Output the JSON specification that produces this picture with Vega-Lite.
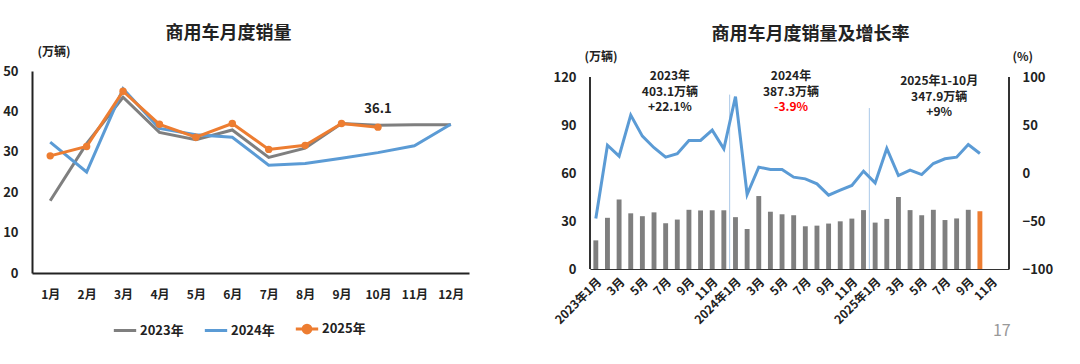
{
  "$schema": "https://vega.github.io/schema/vega-lite/v6.json",
  "background": "white",
  "padding": {"left": 2, "right": 5, "top": 25, "bottom": 5},
  "config": {
    "font": "Noto Sans CJK SC",
    "view": {"stroke": null},
    "axis": {"grid": false, "ticks": false, "labelFontWeight": "bold", "labelColor": "#222", "domainColor": "#333", "titleFontWeight": "bold", "titleColor": "#222"},
    "title": {"fontSize": 18, "fontWeight": "bold", "color": "#222"}
  },
  "title": {"text": "17", "orient": "bottom", "anchor": "end", "color": "#999", "fontSize": 16, "fontWeight": "normal", "dx": -42, "offset": -16},
  "datasets": {
    "sales": [
      {"m": "2023-01", "year": "2023年", "month": 1, "v": 17.9, "yoy": -47.5},
      {"m": "2023-02", "year": "2023年", "month": 2, "v": 32.0, "yoy": 29.0},
      {"m": "2023-03", "year": "2023年", "month": 3, "v": 43.5, "yoy": 17.6},
      {"m": "2023-04", "year": "2023年", "month": 4, "v": 34.8, "yoy": 60.3},
      {"m": "2023-05", "year": "2023年", "month": 5, "v": 33.0, "yoy": 38.4},
      {"m": "2023-06", "year": "2023年", "month": 6, "v": 35.4, "yoy": 26.3},
      {"m": "2023-07", "year": "2023年", "month": 7, "v": 28.6, "yoy": 16.5},
      {"m": "2023-08", "year": "2023年", "month": 8, "v": 30.9, "yoy": 20.0},
      {"m": "2023-09", "year": "2023年", "month": 9, "v": 37.0, "yoy": 33.9},
      {"m": "2023-10", "year": "2023年", "month": 10, "v": 36.6, "yoy": 33.9},
      {"m": "2023-11", "year": "2023年", "month": 11, "v": 36.7, "yoy": 44.7},
      {"m": "2023-12", "year": "2023年", "month": 12, "v": 36.7, "yoy": 25.2},
      {"m": "2024-01", "year": "2024年", "month": 1, "v": 32.4, "yoy": 79.5},
      {"m": "2024-02", "year": "2024年", "month": 2, "v": 25.0, "yoy": -22.4},
      {"m": "2024-03", "year": "2024年", "month": 3, "v": 45.6, "yoy": 6.1},
      {"m": "2024-04", "year": "2024年", "month": 4, "v": 35.8, "yoy": 3.7},
      {"m": "2024-05", "year": "2024年", "month": 5, "v": 34.2, "yoy": 3.7},
      {"m": "2024-06", "year": "2024年", "month": 6, "v": 33.6, "yoy": -4.3},
      {"m": "2024-07", "year": "2024年", "month": 7, "v": 26.7, "yoy": -6.1},
      {"m": "2024-08", "year": "2024年", "month": 8, "v": 27.1, "yoy": -11.3},
      {"m": "2024-09", "year": "2024年", "month": 9, "v": 28.4, "yoy": -23.1},
      {"m": "2024-10", "year": "2024年", "month": 10, "v": 29.8, "yoy": -17.9},
      {"m": "2024-11", "year": "2024年", "month": 11, "v": 31.5, "yoy": -13.0},
      {"m": "2024-12", "year": "2024年", "month": 12, "v": 36.8, "yoy": 1.9},
      {"m": "2025-01", "year": "2025年", "month": 1, "v": 29.0, "yoy": -10.3},
      {"m": "2025-02", "year": "2025年", "month": 2, "v": 31.3, "yoy": 25.6},
      {"m": "2025-03", "year": "2025年", "month": 3, "v": 45.0, "yoy": -2.6},
      {"m": "2025-04", "year": "2025年", "month": 4, "v": 36.8, "yoy": 3.0},
      {"m": "2025-05", "year": "2025年", "month": 5, "v": 33.6, "yoy": -1.6},
      {"m": "2025-06", "year": "2025年", "month": 6, "v": 37.0, "yoy": 9.9},
      {"m": "2025-07", "year": "2025年", "month": 7, "v": 30.6, "yoy": 14.8},
      {"m": "2025-08", "year": "2025年", "month": 8, "v": 31.6, "yoy": 16.5},
      {"m": "2025-09", "year": "2025年", "month": 9, "v": 37.0, "yoy": 29.7},
      {"m": "2025-10", "year": "2025年", "month": 10, "v": 36.1, "yoy": 20.3}
    ],
    "notes": [
      {"blk": "a", "m": "2023-07", "v": 120.6, "t": "2023年"},
      {"blk": "a", "m": "2023-07", "v": 110.8, "t": "403.1万辆"},
      {"blk": "a", "m": "2023-07", "v": 101.0, "t": "+22.1%"},
      {"blk": "b", "m": "2024-06", "v": 120.6, "t": "2024年"},
      {"blk": "b", "m": "2024-06", "v": 110.8, "t": "387.3万辆"},
      {"blk": "b", "m": "2024-06", "v": 101.0, "t": "-3.9%"},
      {"blk": "c", "m": "2025-07", "v": 117.6, "t": "2025年1-10月"},
      {"blk": "c", "m": "2025-07", "v": 107.8, "t": "347.9万辆"},
      {"blk": "c", "m": "2025-07", "v": 98.0, "t": "+9%"}
    ],
    "seps": [
      {"m": "2024-01", "v": 109},
      {"m": "2025-01", "v": 100.6}
    ]
  },
  "spacing": 83,
  "hconcat": [
    {
      "width": 437,
      "height": 202,
      "title": {"text": "商用车月度销量", "offset": 2, "dx": -22},
      "data": {"name": "sales"},
      "layer": [
        {
          "mark": {"type": "line", "strokeWidth": 3},
          "encoding": {
            "x": {"field": "month", "type": "ordinal", "axis": {"labelExpr": "datum.value + '月'", "labelAngle": 0, "labelPadding": 16, "domainWidth": 2, "domainColor": "#222", "title": null, "labelFontSize": 12}},
            "y": {"field": "v", "type": "quantitative", "scale": {"domain": [0, 50], "nice": false}, "axis": {"values": [0, 10, 20, 30, 40, 50], "title": "(万辆)", "titleAngle": 0, "titleX": 5, "titleY": -20, "titleAlign": "left", "titleBaseline": "middle", "titleFontSize": 12, "labelFontSize": 13, "labelPadding": 14, "domainWidth": 2, "domainColor": "#222"}},
            "color": {"field": "year", "type": "nominal", "scale": {"domain": ["2023年", "2024年", "2025年"], "range": ["#7f7f7f", "#5b9bd5", "#ed7d31"]},
              "legend": {"orient": "none", "legendX": 80, "legendY": 245, "direction": "horizontal", "title": null, "symbolType": "stroke", "symbolStrokeWidth": 3, "symbolSize": 500, "labelFontSize": 13, "labelFontWeight": "bold", "labelColor": "#222", "columnPadding": 14, "labelOffset": 2,
                "encode": {"symbols": {"update": {
                  "shape": {"signal": "datum.value === '2025年' ? 'M-1,0H1M-0.35,0A0.35,0.35 0 1,1 0.35,0A0.35,0.35 0 1,1 -0.35,0Z' : 'stroke'"},
                  "fill": {"signal": "datum.value === '2025年' ? '#ed7d31' : 'transparent'"}
                }}}}}
          }
        },
        {
          "transform": [{"filter": "datum.year === '2025年'"}],
          "mark": {"type": "point", "filled": true, "size": 55, "opacity": 1},
          "encoding": {
            "x": {"field": "month", "type": "ordinal"},
            "y": {"field": "v", "type": "quantitative"},
            "color": {"field": "year", "type": "nominal"}
          }
        },
        {
          "transform": [{"filter": "datum.m === '2025-10'"}],
          "mark": {"type": "text", "dy": -18, "fontSize": 13, "fontWeight": "bold", "color": "#222"},
          "encoding": {
            "x": {"field": "month", "type": "ordinal"},
            "y": {"field": "v", "type": "quantitative"},
            "text": {"field": "v", "type": "quantitative", "format": ".1f"}
          }
        }
      ]
    },
    {
      "width": 419,
      "height": 198,
      "title": {"text": "商用车月度销量及增长率", "offset": 6, "dx": 11},
      "data": {"name": "sales"},
      "layer": [
        {
          "layer": [
            {
              "mark": {"type": "bar", "width": {"band": 0.42}},
              "encoding": {
                "x": {"field": "m", "type": "ordinal",
                  "scale": {"domain": ["2023-01","2023-02","2023-03","2023-04","2023-05","2023-06","2023-07","2023-08","2023-09","2023-10","2023-11","2023-12","2024-01","2024-02","2024-03","2024-04","2024-05","2024-06","2024-07","2024-08","2024-09","2024-10","2024-11","2024-12","2025-01","2025-02","2025-03","2025-04","2025-05","2025-06","2025-07","2025-08","2025-09","2025-10","2025-11","2025-12"], "paddingInner": 0, "paddingOuter": 0},
                  "axis": {"title": null, "labelAngle": -45, "labelFontSize": 12, "labelPadding": 7, "labelAlign": "right", "labelBaseline": "top", "domainColor": "#333", "labelExpr": "toNumber(substring(datum.value,5,7)) % 2 === 1 ? (substring(datum.value,5,7) === '01' ? substring(datum.value,0,4) + '年1月' : toNumber(substring(datum.value,5,7)) + '月') : ''"}},
                "y": {"field": "v", "type": "quantitative", "scale": {"domain": [0, 123.75], "nice": false},
                  "axis": {"values": [0, 30, 60, 90, 120], "domain": false, "title": "(万辆)", "titleAngle": 0, "titleX": -6, "titleY": -15, "titleAlign": "left", "titleBaseline": "middle", "titleFontSize": 12, "labelFontSize": 13, "labelPadding": 14}},
                "color": {"condition": {"test": "datum.m === '2025-10'", "value": "#ed7d31"}, "value": "#7f7f7f"}
              }
            },
            {
              "mark": {"type": "rule", "color": "#333", "strokeWidth": 1},
              "encoding": {
                "x": {"datum": "2023-01", "type": "ordinal", "bandPosition": 0},
                "y": {"datum": 0, "type": "quantitative"},
                "y2": {"datum": 120}
              }
            },
            {
              "mark": {"type": "rule", "color": "#333", "strokeWidth": 1},
              "encoding": {
                "x": {"datum": "2025-12", "type": "ordinal", "bandPosition": 1},
                "y": {"datum": 0, "type": "quantitative"},
                "y2": {"datum": 120}
              }
            },
            {
              "data": {"name": "seps"},
              "mark": {"type": "rule", "color": "#a9c8e8", "strokeWidth": 1},
              "encoding": {
                "x": {"field": "m", "type": "ordinal", "bandPosition": 0},
                "y": {"field": "v", "type": "quantitative"},
                "y2": {"datum": 0}
              }
            },
            {
              "data": {"name": "notes"},
              "transform": [{"filter": "datum.blk === 'a'"}],
              "mark": {"type": "text", "fontSize": 12, "fontWeight": "bold", "color": "#222"},
              "encoding": {
                "x": {"field": "m", "type": "ordinal", "bandPosition": 0.87},
                "y": {"field": "v", "type": "quantitative"},
                "text": {"field": "t"}
              }
            },
            {
              "data": {"name": "notes"},
              "transform": [{"filter": "datum.blk === 'b'"}],
              "mark": {"type": "text", "fontSize": 12, "fontWeight": "bold"},
              "encoding": {
                "x": {"field": "m", "type": "ordinal", "bandPosition": 0.27},
                "y": {"field": "v", "type": "quantitative"},
                "text": {"field": "t"},
                "color": {"condition": {"test": "datum.t === '-3.9%'", "value": "#ff0000"}, "value": "#222"}
              }
            },
            {
              "data": {"name": "notes"},
              "transform": [{"filter": "datum.blk === 'c'"}],
              "mark": {"type": "text", "fontSize": 12, "fontWeight": "bold", "color": "#222"},
              "encoding": {
                "x": {"field": "m", "type": "ordinal", "bandPosition": 0},
                "y": {"field": "v", "type": "quantitative"},
                "text": {"field": "t"}
              }
            }
          ]
        },
        {
          "mark": {"type": "line", "strokeWidth": 3, "color": "#5b9bd5"},
          "encoding": {
            "x": {"field": "m", "type": "ordinal"},
            "y": {"field": "yoy", "type": "quantitative", "scale": {"domain": [-100, 106.25], "nice": false},
              "axis": {"orient": "right", "values": [-100, -50, 0, 50, 100], "domain": false, "title": "(%)", "titleAngle": 0, "titleX": 3, "titleY": -15, "titleAlign": "left", "titleBaseline": "middle", "titleFontSize": 12, "labelFontSize": 13, "labelPadding": 13}}
          }
        }
      ],
      "resolve": {"scale": {"y": "independent"}}
    }
  ]
}
